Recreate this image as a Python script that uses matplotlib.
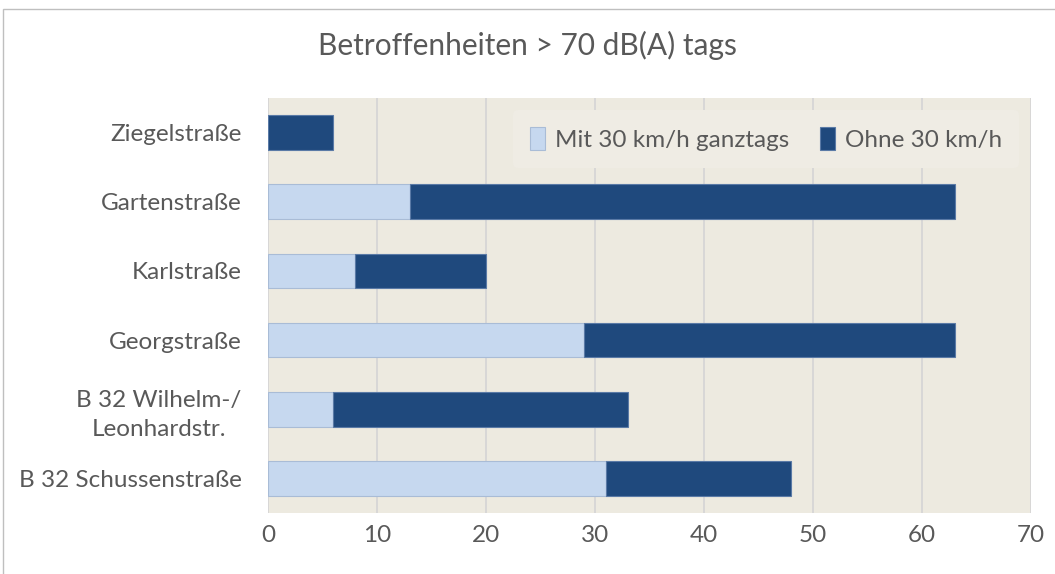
import matplotlib
matplotlib.use("Agg")
import matplotlib.pyplot as plt
import numpy as np

streets = ["Ziegelstraße", "Gartenstraße", "Karlstraße", "Georgstraße",
           "B 32 Wilhelm-/\nLeonhardstr.", "B 32 Schussenstraße"]
mit_30 = [0, 13, 8, 29, 6, 31]
ohne_30 = [6, 50, 12, 34, 27, 17]
xticks = [0, 10, 20, 30, 40, 50, 60, 70]

LIGHT = "#c6d8ef"; DARK = "#1f497d"; BG = "#edeae0"; TXT = "#595959"

plt.rcParams["font.family"] = ["Lato", "DejaVu Sans"]

fig = plt.figure(figsize=(10.55, 5.74), dpi=100)
ax = fig.add_axes([268 / 1055, 1 - 513 / 574, (1031 - 268) / 1055, (513 - 98) / 574])
ax.set_facecolor(BG)

y = np.arange(len(streets))
ax.barh(y, mit_30, 0.5, color=LIGHT, edgecolor="#a9bcd6", linewidth=0.8,
        label="Mit 30 km/h ganztags", zorder=3)
ax.barh(y, ohne_30, 0.5, left=mit_30, color=DARK, edgecolor="#5a7aa6", linewidth=0.8,
        label="Ohne 30 km/h", zorder=3)

ax.set_xlim(0, 70)
ax.set_ylim(len(streets) - 0.5, -0.5)
ax.set_xticks(xticks)
ax.set_yticks(y)
ax.set_yticklabels(streets, fontsize=17.5, color=TXT)
ax.tick_params(axis="x", labelsize=17.5, colors=TXT, length=0, pad=9)
ax.tick_params(axis="y", length=0, pad=19)
for lbl in ax.get_yticklabels():
    lbl.set_multialignment("center")
    lbl.set_linespacing(1.45)
ax.grid(axis="x", color="#d4d4d4", lw=1.2, zorder=0)
for s in ax.spines.values():
    s.set_visible(False)

fig.text(0.5, 1 - 45 / 574, "Betroffenheiten > 70 dB(A) tags", ha="center", va="center",
         fontsize=21.5, color=TXT)

leg = ax.legend(loc="upper right", ncol=2, fontsize=17.5, frameon=True, facecolor="#efece4",
                edgecolor="none", framealpha=1, handlelength=0.6, handleheight=1.1,
                handletextpad=0.4, columnspacing=1.3, borderpad=0.7,
                bbox_to_anchor=(1.0, 1.0))
for t in leg.get_texts():
    t.set_color(TXT)

# outer chart border
fig.add_artist(plt.Rectangle((3 / 1055, -0.01), 1.05, 1 - 9 / 574 + 0.01, transform=fig.transFigure,
                             fill=False, edgecolor="#bfbfbf", lw=1.0))

fig.savefig("out.png", dpi=100)
